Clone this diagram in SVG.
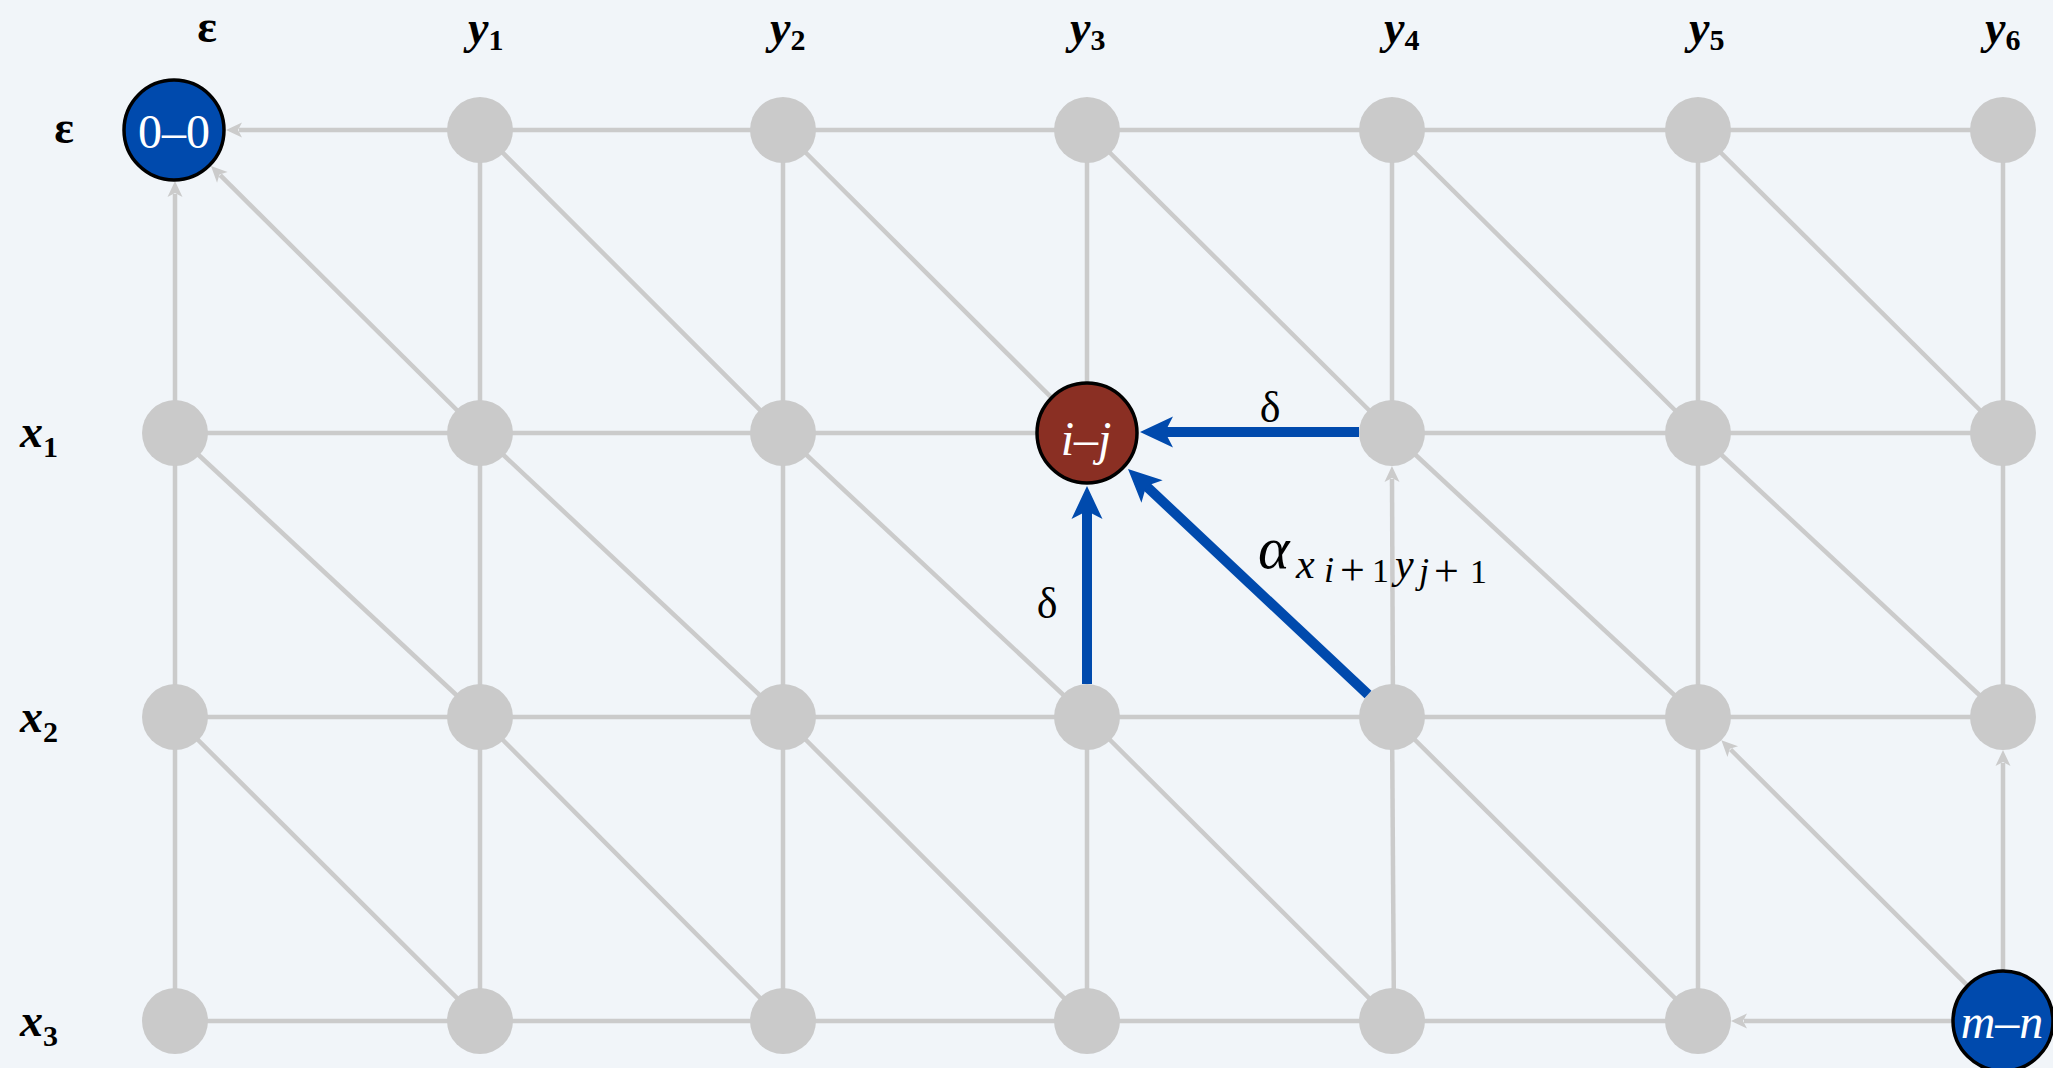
<svg xmlns="http://www.w3.org/2000/svg" width="2053" height="1068" viewBox="0 0 2053 1068">
<style>
.e{stroke:#cbcbcb;stroke-width:4.5;fill:none}
.ea{stroke:#cbcbcb;stroke-width:4.5;fill:none;marker-end:url(#ga)}
.b{stroke:#004aad;stroke-width:10;fill:none;marker-end:url(#ba)}
.g{fill:#cacaca}
.hl{font-family:"Liberation Serif","DejaVu Serif",serif;font-weight:bold;font-style:italic;font-size:46px;fill:#000}
.sub{font-style:normal;font-size:30px}
.eps{font-family:"Liberation Serif","DejaVu Serif",serif;font-weight:bold;font-size:46px;fill:#000}
.nl{font-family:"Liberation Serif","DejaVu Serif",serif;font-size:48px;fill:#fff;text-anchor:middle}
.ml{font-family:"Liberation Serif","DejaVu Serif",serif;fill:#000}
</style>
<defs>
<marker id="ga" markerUnits="userSpaceOnUse" markerWidth="40" markerHeight="40" refX="0" refY="0" orient="auto" overflow="visible">
<path d="M13,0 L-3,-7.5 L1,0 L-3,7.5 Z" fill="#cbcbcb"/>
</marker>
<marker id="ba" markerUnits="userSpaceOnUse" markerWidth="60" markerHeight="60" refX="0" refY="0" orient="auto" overflow="visible">
<path d="M24,0 L-9,-15.5 L-1,0 L-9,15.5 Z" fill="#004aad"/>
</marker>
</defs>
<rect x="0" y="0" width="2053" height="1068" fill="#f1f5f9"/>

<g id="connectors">
<line class="ea" x1="480" y1="130" x2="239" y2="130"/>
<line class="e" x1="480" y1="130" x2="783" y2="130"/>
<line class="e" x1="783" y1="130" x2="1087" y2="130"/>
<line class="e" x1="1087" y1="130" x2="1392" y2="130"/>
<line class="e" x1="1392" y1="130" x2="1698" y2="130"/>
<line class="e" x1="1698" y1="130" x2="2003" y2="130"/>
<line class="e" x1="175" y1="433" x2="480" y2="433"/>
<line class="e" x1="480" y1="433" x2="783" y2="433"/>
<line class="e" x1="783" y1="433" x2="1087" y2="433"/>
<line class="e" x1="1392" y1="433" x2="1698" y2="433"/>
<line class="e" x1="1698" y1="433" x2="2003" y2="433"/>
<line class="e" x1="175" y1="717" x2="480" y2="717"/>
<line class="e" x1="480" y1="717" x2="783" y2="717"/>
<line class="e" x1="783" y1="717" x2="1087" y2="717"/>
<line class="e" x1="1087" y1="717" x2="1392" y2="717"/>
<line class="e" x1="1392" y1="717" x2="1698" y2="717"/>
<line class="e" x1="1698" y1="717" x2="2003" y2="717"/>
<line class="e" x1="175" y1="1021" x2="480" y2="1021"/>
<line class="e" x1="480" y1="1021" x2="783" y2="1021"/>
<line class="e" x1="783" y1="1021" x2="1087" y2="1021"/>
<line class="e" x1="1087" y1="1021" x2="1392" y2="1021"/>
<line class="e" x1="1392" y1="1021" x2="1698" y2="1021"/>
<line class="ea" x1="2003" y1="1021" x2="1744" y2="1021"/>
<line class="ea" x1="175" y1="433" x2="175" y2="194"/>
<line class="e" x1="175" y1="433" x2="175" y2="717"/>
<line class="e" x1="175" y1="717" x2="175" y2="1021"/>
<line class="e" x1="480" y1="130" x2="480" y2="433"/>
<line class="e" x1="480" y1="433" x2="480" y2="717"/>
<line class="e" x1="480" y1="717" x2="480" y2="1021"/>
<line class="e" x1="783" y1="130" x2="783" y2="433"/>
<line class="e" x1="783" y1="433" x2="783" y2="717"/>
<line class="e" x1="783" y1="717" x2="783" y2="1021"/>
<line class="e" x1="1087" y1="130" x2="1087" y2="433"/>
<line class="e" x1="1087" y1="717" x2="1087" y2="1021"/>
<line class="e" x1="1392" y1="130" x2="1392" y2="433"/>
<line class="ea" x1="1393" y1="717" x2="1392" y2="479"/>
<line class="e" x1="1392" y1="717" x2="1394" y2="1021"/>
<line class="e" x1="1698" y1="130" x2="1698" y2="433"/>
<line class="e" x1="1698" y1="433" x2="1698" y2="717"/>
<line class="e" x1="1698" y1="717" x2="1698" y2="1021"/>
<line class="e" x1="2003" y1="130" x2="2003" y2="433"/>
<line class="e" x1="2003" y1="433" x2="2003" y2="717"/>
<line class="ea" x1="2003" y1="1021" x2="2003" y2="763"/>
<line class="ea" x1="480" y1="433" x2="220.2" y2="175.2"/>
<line class="e" x1="480" y1="130" x2="783" y2="433"/>
<line class="e" x1="783" y1="130" x2="1087" y2="433"/>
<line class="e" x1="1087" y1="130" x2="1392" y2="433"/>
<line class="e" x1="1392" y1="130" x2="1698" y2="433"/>
<line class="e" x1="1698" y1="130" x2="2003" y2="433"/>
<line class="e" x1="175" y1="433" x2="480" y2="717"/>
<line class="e" x1="480" y1="433" x2="783" y2="717"/>
<line class="e" x1="783" y1="433" x2="1087" y2="717"/>
<line class="e" x1="1392" y1="433" x2="1698" y2="717"/>
<line class="e" x1="1698" y1="433" x2="2003" y2="717"/>
<line class="e" x1="175" y1="717" x2="480" y2="1021"/>
<line class="e" x1="480" y1="717" x2="783" y2="1021"/>
<line class="e" x1="783" y1="717" x2="1087" y2="1021"/>
<line class="e" x1="1087" y1="717" x2="1392" y2="1021"/>
<line class="e" x1="1392" y1="717" x2="1698" y2="1021"/>
<line class="ea" x1="2003" y1="1021" x2="1730.6" y2="749.5"/>
</g>

<g id="nodes-gray">
<g id="n-0-1"><circle class="g" cx="480" cy="130" r="33"/></g>
<g id="n-0-2"><circle class="g" cx="783" cy="130" r="33"/></g>
<g id="n-0-3"><circle class="g" cx="1087" cy="130" r="33"/></g>
<g id="n-0-4"><circle class="g" cx="1392" cy="130" r="33"/></g>
<g id="n-0-5"><circle class="g" cx="1698" cy="130" r="33"/></g>
<g id="n-0-6"><circle class="g" cx="2003" cy="130" r="33"/></g>
<g id="n-1-0"><circle class="g" cx="175" cy="433" r="33"/></g>
<g id="n-1-1"><circle class="g" cx="480" cy="433" r="33"/></g>
<g id="n-1-2"><circle class="g" cx="783" cy="433" r="33"/></g>
<g id="n-1-4"><circle class="g" cx="1392" cy="433" r="33"/></g>
<g id="n-1-5"><circle class="g" cx="1698" cy="433" r="33"/></g>
<g id="n-1-6"><circle class="g" cx="2003" cy="433" r="33"/></g>
<g id="n-2-0"><circle class="g" cx="175" cy="717" r="33"/></g>
<g id="n-2-1"><circle class="g" cx="480" cy="717" r="33"/></g>
<g id="n-2-2"><circle class="g" cx="783" cy="717" r="33"/></g>
<g id="n-2-3"><circle class="g" cx="1087" cy="717" r="33"/></g>
<g id="n-2-4"><circle class="g" cx="1392" cy="717" r="33"/></g>
<g id="n-2-5"><circle class="g" cx="1698" cy="717" r="33"/></g>
<g id="n-2-6"><circle class="g" cx="2003" cy="717" r="33"/></g>
<g id="n-3-0"><circle class="g" cx="175" cy="1021" r="33"/></g>
<g id="n-3-1"><circle class="g" cx="480" cy="1021" r="33"/></g>
<g id="n-3-2"><circle class="g" cx="783" cy="1021" r="33"/></g>
<g id="n-3-3"><circle class="g" cx="1087" cy="1021" r="33"/></g>
<g id="n-3-4"><circle class="g" cx="1392" cy="1021" r="33"/></g>
<g id="n-3-5"><circle class="g" cx="1698" cy="1021" r="33"/></g>
</g>

<g id="n-start">
<circle cx="174" cy="130" r="50" fill="#004aad" stroke="#000" stroke-width="3.5"/>
<text class="nl" x="174" y="148" font-size="50">0–0</text>
</g>
<g id="n-ij">
<circle cx="1087" cy="433" r="50" fill="#8a2f23" stroke="#000" stroke-width="3.5"/>
<text class="nl" x="1086" y="455" font-style="italic" font-size="46">i–j</text>
</g>
<g id="n-end">
<circle cx="2003" cy="1021" r="50" fill="#004aad" stroke="#000" stroke-width="3.5"/>
<text class="nl" x="2002" y="1038" font-style="italic">m–n</text>
</g>

<g id="highlight">
<line class="b" x1="1359" y1="432" x2="1164" y2="432"/>
<line class="b" x1="1087" y1="684" x2="1087" y2="510"/>
<line class="b" x1="1368" y1="694.5" x2="1145.5" y2="485.4"/>
<text class="ml" x="1270" y="422" font-size="44" text-anchor="middle">δ</text>
<text class="ml" x="1047" y="618" font-size="44" text-anchor="middle">δ</text>
<text class="ml" font-style="italic"><tspan x="1258" y="568" font-size="60">α</tspan><tspan x="1296" y="578" font-size="42">x</tspan><tspan x="1324" y="582" font-size="36">i</tspan><tspan x="1340" y="585" font-size="44" font-style="normal">+</tspan><tspan x="1372" y="582" font-size="34" font-style="normal">1</tspan><tspan x="1395" y="578" font-size="42">y</tspan><tspan x="1419" y="583" font-size="36">j</tspan><tspan x="1434" y="586" font-size="44" font-style="normal">+</tspan><tspan x="1470" y="583" font-size="34" font-style="normal">1</tspan></text>
</g>

<g id="headers">
<text class="eps" x="207" y="42" text-anchor="middle">ε</text>
<text class="hl" x="468" y="43">y<tspan class="sub" dy="7">1</tspan></text>
<text class="hl" x="770" y="43">y<tspan class="sub" dy="7">2</tspan></text>
<text class="hl" x="1070" y="43">y<tspan class="sub" dy="7">3</tspan></text>
<text class="hl" x="1384" y="43">y<tspan class="sub" dy="7">4</tspan></text>
<text class="hl" x="1689" y="43">y<tspan class="sub" dy="7">5</tspan></text>
<text class="hl" x="1985" y="43">y<tspan class="sub" dy="7">6</tspan></text>
<text class="eps" x="64" y="143" text-anchor="middle">ε</text>
<text class="hl" x="20" y="447">x<tspan class="sub" dy="10">1</tspan></text>
<text class="hl" x="20" y="732">x<tspan class="sub" dy="10">2</tspan></text>
<text class="hl" x="20" y="1036">x<tspan class="sub" dy="10">3</tspan></text>
</g>
</svg>
